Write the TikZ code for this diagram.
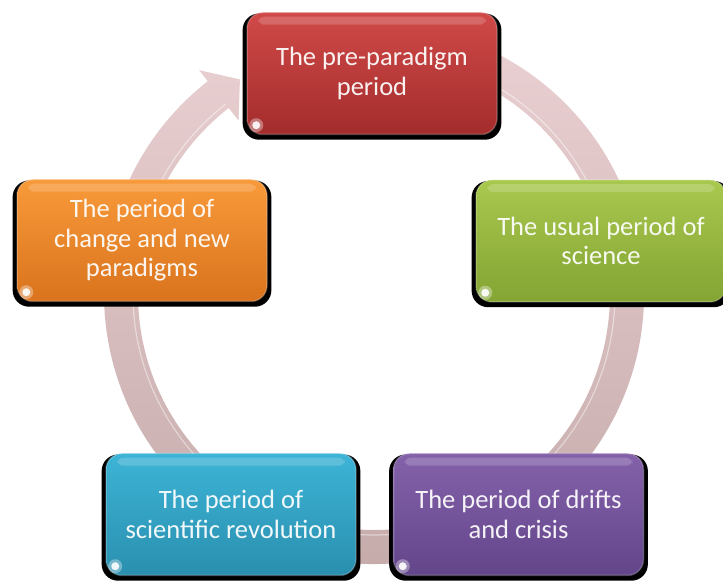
\documentclass[tikz,border=0pt]{standalone}
\usepackage{fontspec}
\setmainfont{Carlito}
\usetikzlibrary{shadows}
\definecolor{redT}{HTML}{D04A48}\definecolor{redB}{HTML}{A32C2C}
\definecolor{grnT}{HTML}{A8C84E}\definecolor{grnB}{HTML}{84A434}
\definecolor{purT}{HTML}{8462AA}\definecolor{purB}{HTML}{63458A}
\definecolor{cyaT}{HTML}{3DB4D6}\definecolor{cyaB}{HTML}{2A8FAF}
\definecolor{orgT}{HTML}{F89A3A}\definecolor{orgB}{HTML}{D9731D}
\definecolor{ringT}{HTML}{ECD2D4}\definecolor{ringB}{HTML}{C4AAA9}
\newcommand\cardgloss[1]{%
  \fill[white,opacity=0.18,rounded corners=6] ([xshift=12,yshift=-5]#1.north west) rectangle ([xshift=-12,yshift=-13]#1.north east);
  \fill[white,opacity=0.35] ([xshift=10,yshift=10]#1.south west) circle [radius=7];
  \fill[white,opacity=0.9] ([xshift=10,yshift=10]#1.south west) circle [radius=4];}
\begin{document}
\begin{tikzpicture}[x=1pt,y=1pt,
  card/.style={rounded corners=16, minimum width=250, minimum height=122, inner sep=0pt,
    align=center, font=\fontsize{26.5}{29.5}\selectfont, text=white, text opacity=0.93,
    draw=white, draw opacity=0.22, line width=1.5,
    general shadow={fill=black, shadow scale=1.035, shadow yshift=-3}}]
\useasboundingbox (0,0) rectangle (723,585);
% circular arrow behind the boxes
\begin{scope}[shift={(374,291)}]
  \shade[top color=ringT, bottom color=ringB]
    (100:270) arc[start angle=100, end angle=-232, radius=270]
    -- (-232:284) -- (-238:253) -- (-232:220) -- (-232:236)
    arc[start angle=-232, end angle=100, radius=236] -- cycle;
  \draw[white, opacity=0.45, line width=1.2] (-232:241) arc[start angle=-232, end angle=100, radius=241];
\end{scope}
% boxes
\node[card, top color=redT, bottom color=redB] (pre) at (372,511.5) {The pre-paradigm\\period};
\node[card, top color=grnT, bottom color=grnB] (usual) at (601,344) {The usual period of\\science};
\node[card, top color=purT, bottom color=purB] (drift) at (518.5,70.5) {The period of drifts\\and crisis};
\node[card, top color=cyaT, bottom color=cyaB] (rev) at (231,70.5) {The period of\\scientific revolution};
\node[card, top color=orgT, bottom color=orgB] (chg) at (142,344.5) {The period of\\change and new\\paradigms};
\cardgloss{pre}\cardgloss{usual}\cardgloss{drift}\cardgloss{rev}\cardgloss{chg}
\end{tikzpicture}
\end{document}
